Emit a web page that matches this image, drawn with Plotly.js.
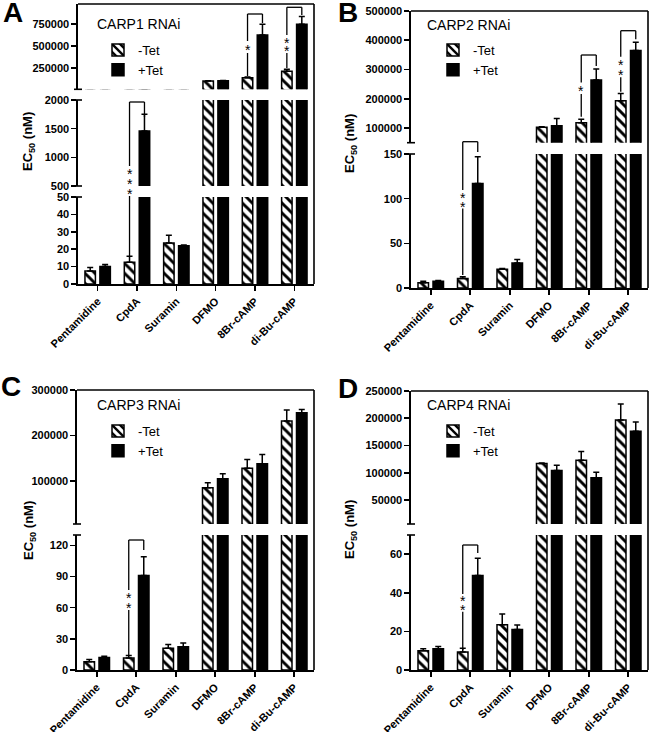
<!DOCTYPE html>
<html><head><meta charset="utf-8">
<script src="https://cdn.plot.ly/plotly-3.0.1.min.js"></script>
<style>body{margin:0;padding:0;background:#fff}#chart{width:650px;height:732px}</style>
</head><body><div id="chart"></div>
<script>
// ---------------- DATA ----------------
const categories = ['Pentamidine', 'CpdA', 'Suramin', 'DFMO', '8Br-cAMP', 'di-Bu-cAMP'];
const seriesNames = ['-Tet', '+Tet'];
const panelTitles = ['CARP1 RNAi', 'CARP2 RNAi', 'CARP3 RNAi', 'CARP4 RNAi'];

// CARP1 RNAi (A)
const carp1Minus    = [7.5, 12.5, 23.5, 103000, 140000, 215000];
const carp1MinusErr = [2, 3.5, 4.5, 3000, 10000, 22000];
const carp1Plus     = [10, 1460, 22, 106000, 625000, 745000];
const carp1PlusErr  = [1.2, 290, 0.4, 3000, 120000, 90000];
// CARP2 RNAi (B)
const carp2Minus    = [6, 10.5, 21, 103000, 118000, 193000];
const carp2MinusErr = [1.5, 2, 0.8, 1500, 12000, 25000];
const carp2Plus     = [7.5, 117, 28, 108000, 264000, 365000];
const carp2PlusErr  = [1, 30, 4, 25000, 38000, 28000];
// CARP3 RNAi (C)
const carp3Minus    = [8, 11.5, 21, 85000, 128000, 232000];
const carp3MinusErr = [2, 2.5, 3.5, 11000, 19000, 24000];
const carp3Plus     = [12, 91, 22.5, 105000, 138000, 250000];
const carp3PlusErr  = [1.2, 18, 3.5, 11000, 20000, 7000];
// CARP4 RNAi (D)
const carp4Minus    = [10, 9.3, 23.5, 117000, 123000, 197000];
const carp4MinusErr = [1, 2, 5.5, 1000, 16000, 29000];
const carp4Plus     = [11, 49, 21, 104000, 91000, 176000];
const carp4PlusErr  = [1.2, 9, 2.3, 10000, 10000, 17000];
const noErr = [0, 0, 0, 0, 0, 0];

// y-axis tick values per axis segment
const ticksA_low = [0, 10, 20, 30, 40, 50];
const ticksA_mid = [500, 1000, 1500, 2000];
const ticksA_high = [250000, 500000, 750000];
const ticksB_low = [0, 50, 100, 150];
const ticksB_high = [100000, 200000, 300000, 400000, 500000];
const ticksC_low = [0, 30, 60, 90, 120];
const ticksC_high = [100000, 200000, 300000];
const ticksD_low = [0, 20, 40, 60];
const ticksD_high = [50000, 100000, 150000, 200000, 250000];

// ---------------- LAYOUT HELPERS ----------------
const W = 650, H = 732;
const px = p => p / W;
const py = p => 1 - p / H;
const FONT = 'Liberation Sans, Arial, sans-serif';

const panels = [
  { letter: 'A', title: panelTitles[0], minus: carp1Minus, minusErr: carp1MinusErr, plus: carp1Plus, plusErr: carp1PlusErr,
    x: [78, 314],
    segs: [ { dom: [197, 284], range: [0, 50], ticks: ticksA_low },
            { dom: [100, 186], range: [500, 2000], ticks: ticksA_mid },
            { dom: [4, 89.3], range: [10000, 975000], ticks: ticksA_high } ],
    letterPos: [13, 13], titlePos: [95, 24], ytitlePos: [28, 142], legendPos: [98, 35],
    brackets: [ { cat: 1, top: 102, right: 117, left: [[102, 166], [196, 256]], stars: [171.5, 181.5, 191] },
                { cat: 4, top: 14, right: 23, left: [[14, 41], [53, 76]], stars: [47] },
                { cat: 5, top: 7.3, right: 15, left: [[7.3, 35], [53, 68]], stars: [40, 48] } ] },
  { letter: 'B', title: panelTitles[1], minus: carp2Minus, minusErr: carp2MinusErr, plus: carp2Plus, plusErr: carp2PlusErr,
    x: [411, 648],
    segs: [ { dom: [154, 288], range: [0, 150], ticks: ticksB_low },
            { dom: [11, 142.7], range: [50000, 500000], ticks: ticksB_high } ],
    letterPos: [348, 13], titlePos: [425, 25], ytitlePos: [350, 144], legendPos: [433, 35],
    brackets: [ { cat: 1, top: 141.7, right: 152, left: [[141.7, 190], [208.5, 275]], stars: [194.5, 204] },
                { cat: 4, top: 55, right: 66, left: [[55, 82.5], [94, 116.7]], stars: [88.3] },
                { cat: 5, top: 30.7, right: 39.3, left: [[30.7, 56.7], [77.3, 91.7]], stars: [61.7, 71.7] } ] },
  { letter: 'C', title: panelTitles[2], minus: carp3Minus, minusErr: carp3MinusErr, plus: carp3Plus, plusErr: carp3PlusErr,
    x: [77, 314],
    segs: [ { dom: [535, 670], range: [0, 130], ticks: ticksC_low },
            { dom: [390, 524], range: [5500, 300000], ticks: ticksC_high } ],
    letterPos: [11, 386], titlePos: [95, 405], ytitlePos: [29, 530], legendPos: [98, 416],
    brackets: [ { cat: 1, top: 540, right: 550, left: [[540, 590], [610, 655]], stars: [595, 605] } ] },
  { letter: 'D', title: panelTitles[3], minus: carp4Minus, minusErr: carp4MinusErr, plus: carp4Plus, plusErr: carp4PlusErr,
    x: [411, 648],
    segs: [ { dom: [535, 670], range: [0, 70], ticks: ticksD_low },
            { dom: [391, 524], range: [6000, 250000], ticks: ticksD_high } ],
    letterPos: [348, 388], titlePos: [425, 405], ytitlePos: [350, 530], legendPos: [433, 416],
    brackets: [ { cat: 1, top: 545, right: 553, left: [[545, 594], [611.7, 650]], stars: [598.3, 607.3] } ] }
];

const LW = 1.6;
const hatchMarker = { color: 'white', line: { color: 'black', width: 1.5 },
  pattern: { shape: '\\', fgcolor: 'black', bgcolor: 'white', size: 7, solidity: 0.42, fillmode: 'replace' } };
const solidMarker = { color: 'black', line: { color: 'black', width: 1.5 } };
const errStyle = { color: 'black', thickness: 1.5, width: 3 };

const traces = [];
const layout = {
  width: W, height: H, margin: { l: 0, r: 0, t: 0, b: 0 },
  paper_bgcolor: 'white', plot_bgcolor: 'rgba(0,0,0,0)',
  font: { family: FONT, color: 'black' },
  barmode: 'group', bargap: 0.24, bargroupgap: 0.3,
  showlegend: true, shapes: [], annotations: []
};

let yCount = 0;
const barOffset = 0.19;
panels.forEach((p, pi) => {
  const xid = pi === 0 ? 'x' : 'x' + (pi + 1);
  const xname = pi === 0 ? 'xaxis' : 'xaxis' + (pi + 1);
  const legName = pi === 0 ? 'legend' : 'legend' + (pi + 1);
  let bottomYid = null;
  p.segs.forEach((s, si) => {
    yCount++;
    const yid = yCount === 1 ? 'y' : 'y' + yCount;
    const yname = yCount === 1 ? 'yaxis' : 'yaxis' + yCount;
    if (si === 0) bottomYid = yid;
    layout[yname] = {
      domain: [py(s.dom[1]), py(s.dom[0])], range: s.range, anchor: xid,
      tickmode: 'array', tickvals: s.ticks, ticktext: s.ticks.map(String),
      showline: true, linecolor: 'black', linewidth: LW, ticks: 'outside', ticklen: 5, tickwidth: LW, tickcolor: 'black',
      tickfont: { family: FONT, size: 11, weight: 'bold', color: 'black' },
      showgrid: false, zeroline: false, fixedrange: true
    };
    traces.push({ type: 'bar', name: seriesNames[0], x: categories, y: p.minus, xaxis: xid, yaxis: yid,
      marker: hatchMarker, error_y: Object.assign({ type: 'data', symmetric: false, array: p.minusErr, arrayminus: noErr }, errStyle),
      showlegend: si === 0, legend: legName, hoverinfo: 'skip' });
    traces.push({ type: 'bar', name: seriesNames[1], x: categories, y: p.plus, xaxis: xid, yaxis: yid,
      marker: solidMarker, error_y: Object.assign({ type: 'data', symmetric: false, array: p.plusErr, arrayminus: noErr }, errStyle),
      showlegend: si === 0, legend: legName, hoverinfo: 'skip' });
    const ax = p.x[0];
    if (si > 0) layout.shapes.push({ type: 'line', xref: 'paper', yref: 'paper', x0: px(ax - 4), x1: px(ax + 4), y0: py(s.dom[1]), y1: py(s.dom[1]), line: { color: 'black', width: LW } });
    if (si < p.segs.length - 1) layout.shapes.push({ type: 'line', xref: 'paper', yref: 'paper', x0: px(ax - 4), x1: px(ax + 4), y0: py(s.dom[0]), y1: py(s.dom[0]), line: { color: 'black', width: LW } });
  });
  layout[xname] = {
    domain: [px(p.x[0]), px(p.x[1])], anchor: bottomYid, type: 'category', range: [-0.5, 5.5],
    showline: true, linecolor: 'black', linewidth: LW, ticks: 'outside', ticklen: 5, tickwidth: LW, tickcolor: 'black',
    tickangle: -45, tickfont: { family: FONT, size: 11, weight: 'bold', color: 'black' },
    showgrid: false, zeroline: false, fixedrange: true
  };
  const topPx = p.segs[p.segs.length - 1].dom[0];
  const botPx = p.segs[0].dom[1];
  layout.shapes.push({ type: 'line', xref: 'paper', yref: 'paper', x0: px(p.x[0]), x1: px(p.x[1]), y0: py(topPx), y1: py(topPx), line: { color: 'black', width: LW } });
  layout.shapes.push({ type: 'line', xref: 'paper', yref: 'paper', x0: px(p.x[1]), x1: px(p.x[1]), y0: py(topPx), y1: py(botPx), line: { color: 'black', width: LW } });

  layout[legName] = { x: px(p.legendPos[0]), y: py(p.legendPos[1]), xanchor: 'left', yanchor: 'top',
    bgcolor: 'rgba(0,0,0,0)', font: { family: FONT, size: 13, color: 'black' }, traceorder: 'normal', tracegroupgap: 0 };

  layout.annotations.push({ xref: 'paper', yref: 'paper', x: px(p.letterPos[0]), y: py(p.letterPos[1]), text: '<b>' + p.letter + '</b>',
    showarrow: false, font: { family: FONT, size: 28, color: 'black' }, xanchor: 'center', yanchor: 'middle' });
  layout.annotations.push({ xref: 'paper', yref: 'paper', x: px(p.titlePos[0]), y: py(p.titlePos[1]), text: p.title,
    showarrow: false, font: { family: FONT, size: 14, color: 'black' }, xanchor: 'left', yanchor: 'middle' });
  layout.annotations.push({ xref: 'paper', yref: 'paper', x: px(p.ytitlePos[0]), y: py(p.ytitlePos[1]), text: '<b>EC<sub>50</sub> (nM)</b>',
    showarrow: false, textangle: -90, font: { family: FONT, size: 13, color: 'black' }, xanchor: 'center', yanchor: 'middle' });

  const catW = (p.x[1] - p.x[0]) / categories.length;
  p.brackets.forEach(b => {
    const xl = p.x[0] + (b.cat + 0.5 - barOffset) * catW;
    const xr = p.x[0] + (b.cat + 0.5 + barOffset) * catW;
    const ls = { color: 'black', width: 1.3 };
    layout.shapes.push({ type: 'line', xref: 'paper', yref: 'paper', x0: px(xl), x1: px(xr), y0: py(b.top), y1: py(b.top), line: ls });
    layout.shapes.push({ type: 'line', xref: 'paper', yref: 'paper', x0: px(xr), x1: px(xr), y0: py(b.top), y1: py(b.right), line: ls });
    b.left.forEach(seg => layout.shapes.push({ type: 'line', xref: 'paper', yref: 'paper', x0: px(xl), x1: px(xl), y0: py(seg[0]), y1: py(seg[1]), line: ls }));
    b.stars.forEach(sy => layout.annotations.push({ xref: 'paper', yref: 'paper', x: px(xl), y: py(sy + 3), text: '*',
      showarrow: false, font: { family: FONT, size: 14, color: 'black' }, xanchor: 'center', yanchor: 'middle' }));
  });
});

Plotly.newPlot('chart', traces, layout, { staticPlot: true, displayModeBar: false });
</script>
</body></html>
